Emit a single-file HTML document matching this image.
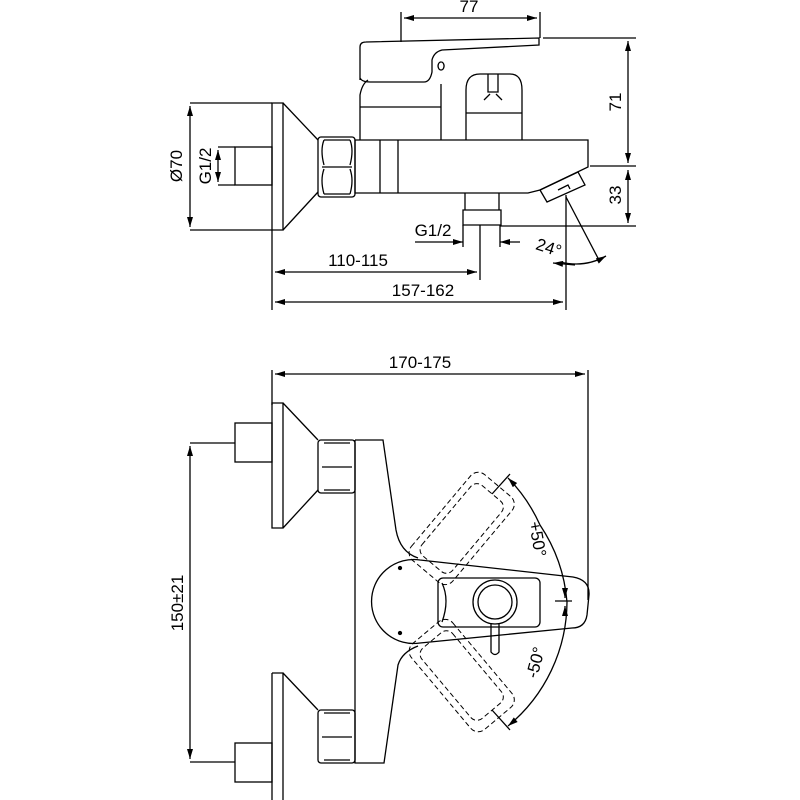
<!DOCTYPE html>
<html><head><meta charset="utf-8"><style>html,body{margin:0;padding:0;background:#fff}svg{display:block}</style></head><body>
<svg width="800" height="800" viewBox="0 0 800 800" xmlns="http://www.w3.org/2000/svg" font-family="Liberation Sans, sans-serif" font-size="17">
<defs>
<marker id="a" viewBox="0 0 10 6" refX="10" refY="3" markerWidth="11" markerHeight="6" orient="auto-start-reverse" markerUnits="userSpaceOnUse"><path d="M0,0L10,3L0,6z" fill="#000"/></marker>
</defs>
<g fill="none" stroke="#000" stroke-width="1.3">
<!-- TOP VIEW -->
<rect x="235" y="147" width="37" height="38"/>
<path d="M272,103H283V230H272Z"/>
<path d="M283,103L318,140M283,230L318,192"/>
<rect x="318" y="137" width="37" height="60" rx="3"/>
<path d="M324,140H350M324,194H350M322,167H352M324,140Q320,150 324,165M350,140Q354,150 350,165M324,169Q320,180 324,194M350,169Q354,180 350,194"/>
<path d="M355,140H588V167L540,190L528,193H355Z"/>
<path d="M380,140V193M398,140V193"/>
<path d="M540,190L578,172L585,185L547,202Z M558,190l10,-5l2,4"/>
<path d="M360,140V95Q362,84 368,80M441,84V140M360,107H441"/>
<path d="M360,80V47Q360,42 366,42L539,38V45L442,50Q434,52 432,60L432,72Q430,82 424,82L370,82Q362,82 360,78"/>
<path d="M441,62a3,4 0 1,0 0.1,0"/>
<path d="M466,140V90Q466,74 480,74H510Q522,74 522,90V140M466,113H522M488,74V92H498V74M484,100l6,-6M502,100l-6,-6"/>
<path d="M465,193V210H499V193M463,210H501V225H463Z"/>
<!-- dims top -->
<path d="M401,42V12M540,38V12M543,38H636M590,166H636M500,226H636M190,103H272M190,230H272M218,147H235M218,185H235"/>
<path d="M404,18H537" marker-start="url(#a)" marker-end="url(#a)"/>
<path d="M628,41V163" marker-start="url(#a)" marker-end="url(#a)"/>
<path d="M628,170V223" marker-start="url(#a)" marker-end="url(#a)"/>
<path d="M190,106V227" marker-start="url(#a)" marker-end="url(#a)"/>
<path d="M218,150V182" marker-start="url(#a)" marker-end="url(#a)"/>
<path d="M463,225V247M500,225V247M480,225V280M272,230V310M566,195V310"/>
<path d="M415,242H463" marker-end="url(#a)"/><path d="M520,242H500" marker-end="url(#a)"/>
<path d="M275,272H477" marker-start="url(#a)" marker-end="url(#a)"/>
<path d="M275,302H563" marker-start="url(#a)" marker-end="url(#a)"/>
<path d="M566,197L600,262"/>
<path d="M560,262Q585,268 606,256" marker-end="url(#a)"/>
<path d="M575,265L553,263" marker-end="url(#a)"/>
<!-- BOTTOM VIEW -->
<path d="M272,370V405M588,370V600"/>
<path d="M275,374H585" marker-start="url(#a)" marker-end="url(#a)"/>
<rect x="235" y="423" width="37" height="39"/>
<path d="M272,403H283V528H272Z M283,403L318,440M283,528L318,490"/>
<rect x="318" y="440" width="37" height="53" rx="3"/><path d="M322,467H352M324,443H350M324,490H350"/>
<rect x="235" y="743" width="37" height="39"/>
<path d="M272,673H283V800M272,673V800M283,673L318,710"/>
<rect x="318" y="710" width="37" height="53" rx="3"/><path d="M322,737H352M324,713H350M324,760H350"/>
<path d="M355,440H383L396,530Q400,552 418,558"/>
<path d="M418,646Q402,652 398,665L384,763H355V440"/>
<path d="M420,560L573,577Q590,580 589,595L587,615Q585,628 572,628L420,643A42,42 0 1,1 420,560Z"/>
<rect x="438" y="578" width="102" height="49" rx="5"/>
<path d="M442,583Q450,600 442,622"/>
<circle cx="495" cy="602" r="22"/><circle cx="495" cy="602" r="17"/>
<path d="M491,623V652Q495,657 499,652V623"/>
<circle cx="400" cy="568" r="1.5" fill="#000"/><circle cx="400" cy="633" r="1.5" fill="#000"/>
<path d="M555,601H572" />
<path d="M565,588V598" marker-end="url(#a)"/><path d="M565,616V606" marker-end="url(#a)"/>
<g stroke-dasharray="5,3" stroke-width="1">
<g transform="rotate(-50 400 602)"><rect x="440" y="575" width="112" height="54" rx="10"/><rect x="450" y="582" width="92" height="40" rx="8"/></g>
<g transform="rotate(50 400 602)"><rect x="440" y="575" width="112" height="54" rx="10"/><rect x="450" y="582" width="92" height="40" rx="8"/></g>
</g>
<path d="M492,494L510,474M492,710L510,730"/>
<path d="M540,525A162,162 0 0,0 508,478" marker-end="url(#a)"/>
<path d="M540,525A162,162 0 0,1 567,602A162,162 0 0,1 508,726" marker-end="url(#a)"/>
<path d="M190,443H235M190,762H235"/>
<path d="M190,446V759" marker-start="url(#a)" marker-end="url(#a)"/>
</g>
<g fill="#000">
<text x="469" y="12" text-anchor="middle">77</text>
<text transform="translate(621,102) rotate(-90)" text-anchor="middle">71</text>
<text transform="translate(621,195) rotate(-90)" text-anchor="middle">33</text>
<text transform="translate(182,166) rotate(-90)" text-anchor="middle">Ø70</text>
<text transform="translate(211,166) rotate(-90)" text-anchor="middle">G1/2</text>
<text x="433" y="236" text-anchor="middle">G1/2</text>
<text x="358" y="266" text-anchor="middle">110-115</text>
<text x="423" y="296" text-anchor="middle">157-162</text>
<text transform="translate(547,253) rotate(18)" text-anchor="middle">24°</text>
<text x="420" y="368" text-anchor="middle">170-175</text>
<text transform="translate(183,603) rotate(-90)" text-anchor="middle">150±21</text>
<text transform="translate(532,540) rotate(80)" text-anchor="middle">+50°</text>
<text transform="translate(541,664) rotate(-75)" text-anchor="middle">-50°</text>
</g>
</svg>
</body></html>
